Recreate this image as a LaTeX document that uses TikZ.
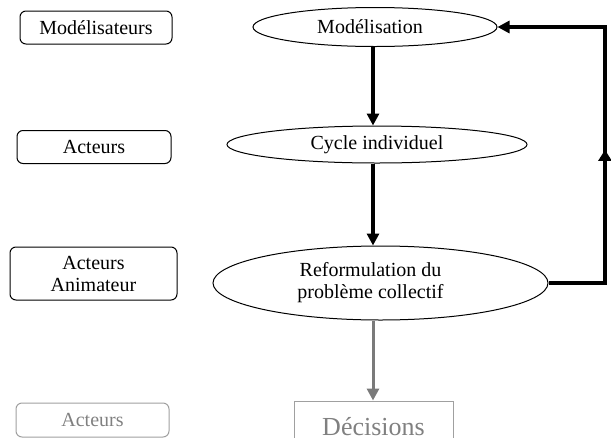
\documentclass[tikz,border=0pt]{standalone}
\usepackage{fontspec}
\setmainfont{Liberation Serif}
\usetikzlibrary{shapes.geometric,arrows.meta,calc}
\definecolor{greytext}{HTML}{808080}
\definecolor{greyline}{HTML}{7A7A7A}
\definecolor{greyframe}{HTML}{A0A0A0}
\tikzset{
  role/.style={draw, rounded corners=6pt, line width=1pt, align=center,
    inner sep=0pt, font=\fontsize{20}{22}\selectfont},
  stage/.style={draw, ellipse, line width=1pt, inner sep=0pt},
  stagetext/.style={align=center, inner sep=0pt, font=\fontsize{20}{22}\selectfont},
  flow/.style={line width=3.2pt, -{Triangle[length=12pt,width=12pt]}},
  tipflow/.style={line width=3.2pt, -{Triangle[length=11pt,width=13pt]}},
  outflow/.style={line width=3pt, greyline, -{Triangle[length=12pt,width=12pt]}},
}
\begin{document}
\begin{tikzpicture}[x=1pt,y=-1pt]
  \useasboundingbox (0,0) rectangle (611,437);
  \clip (0,0) rectangle (611,437);

  % participants
  \node[role, minimum width=152pt, minimum height=33pt] (r1) at (96,27.5) {Modélisateurs};
  \node[role, minimum width=154pt, minimum height=33pt] (r2) at (94,147) {Acteurs};
  \node[role, minimum width=167pt, minimum height=53pt] (r3) at (93.5,273.5) {Acteurs\\Animateur};
  \node[role, draw=greyframe, text=greytext, minimum width=153pt, minimum height=34pt] (r4) at (92.5,420) {Acteurs};

  % stages of the process
  \node[stage, minimum width=244pt, minimum height=39pt] (mod) at (375,27) {};
  \node[stagetext] at ([xshift=-5pt]mod.center) {Modélisation};
  \node[stage, minimum width=300pt, minimum height=37pt] (cyc) at (377,144.5) {};
  \node[stagetext] at (cyc.center) {Cycle individuel};
  \node[stage, minimum width=335pt, minimum height=74pt] (ref) at (380.5,283) {};
  \node[stagetext] at ([xshift=-10pt]ref.center) {Reformulation du\\problème collectif};

  \node[draw=greyframe, line width=1pt, inner sep=0pt,
        minimum width=159pt, minimum height=54pt] (dec) at (373.5,428) {};
  \node[text=greytext, inner sep=0pt, text depth=0pt, font=\fontsize{26}{30}\selectfont]
        at ([yshift=2pt]dec.center) {Décisions};

  % connectors
  \coordinate (ax) at (373,0);
  \coordinate (fb) at (605,0);
  \draw[flow] (mod.south -| ax) -- (cyc.north -| ax);
  \draw[flow] (cyc.south -| ax) -- (ref.north -| ax);
  \draw[outflow] (ref.south -| ax) -- (dec.north -| ax);
  \draw[flow] (ref.east) -- (ref.east -| fb) -- (mod.east -| fb) -- (mod.east);
  \draw[tipflow] (ref.east -| fb) -- ($(mod.east -| fb)!0.48!(ref.east -| fb)$);
\end{tikzpicture}
\end{document}
